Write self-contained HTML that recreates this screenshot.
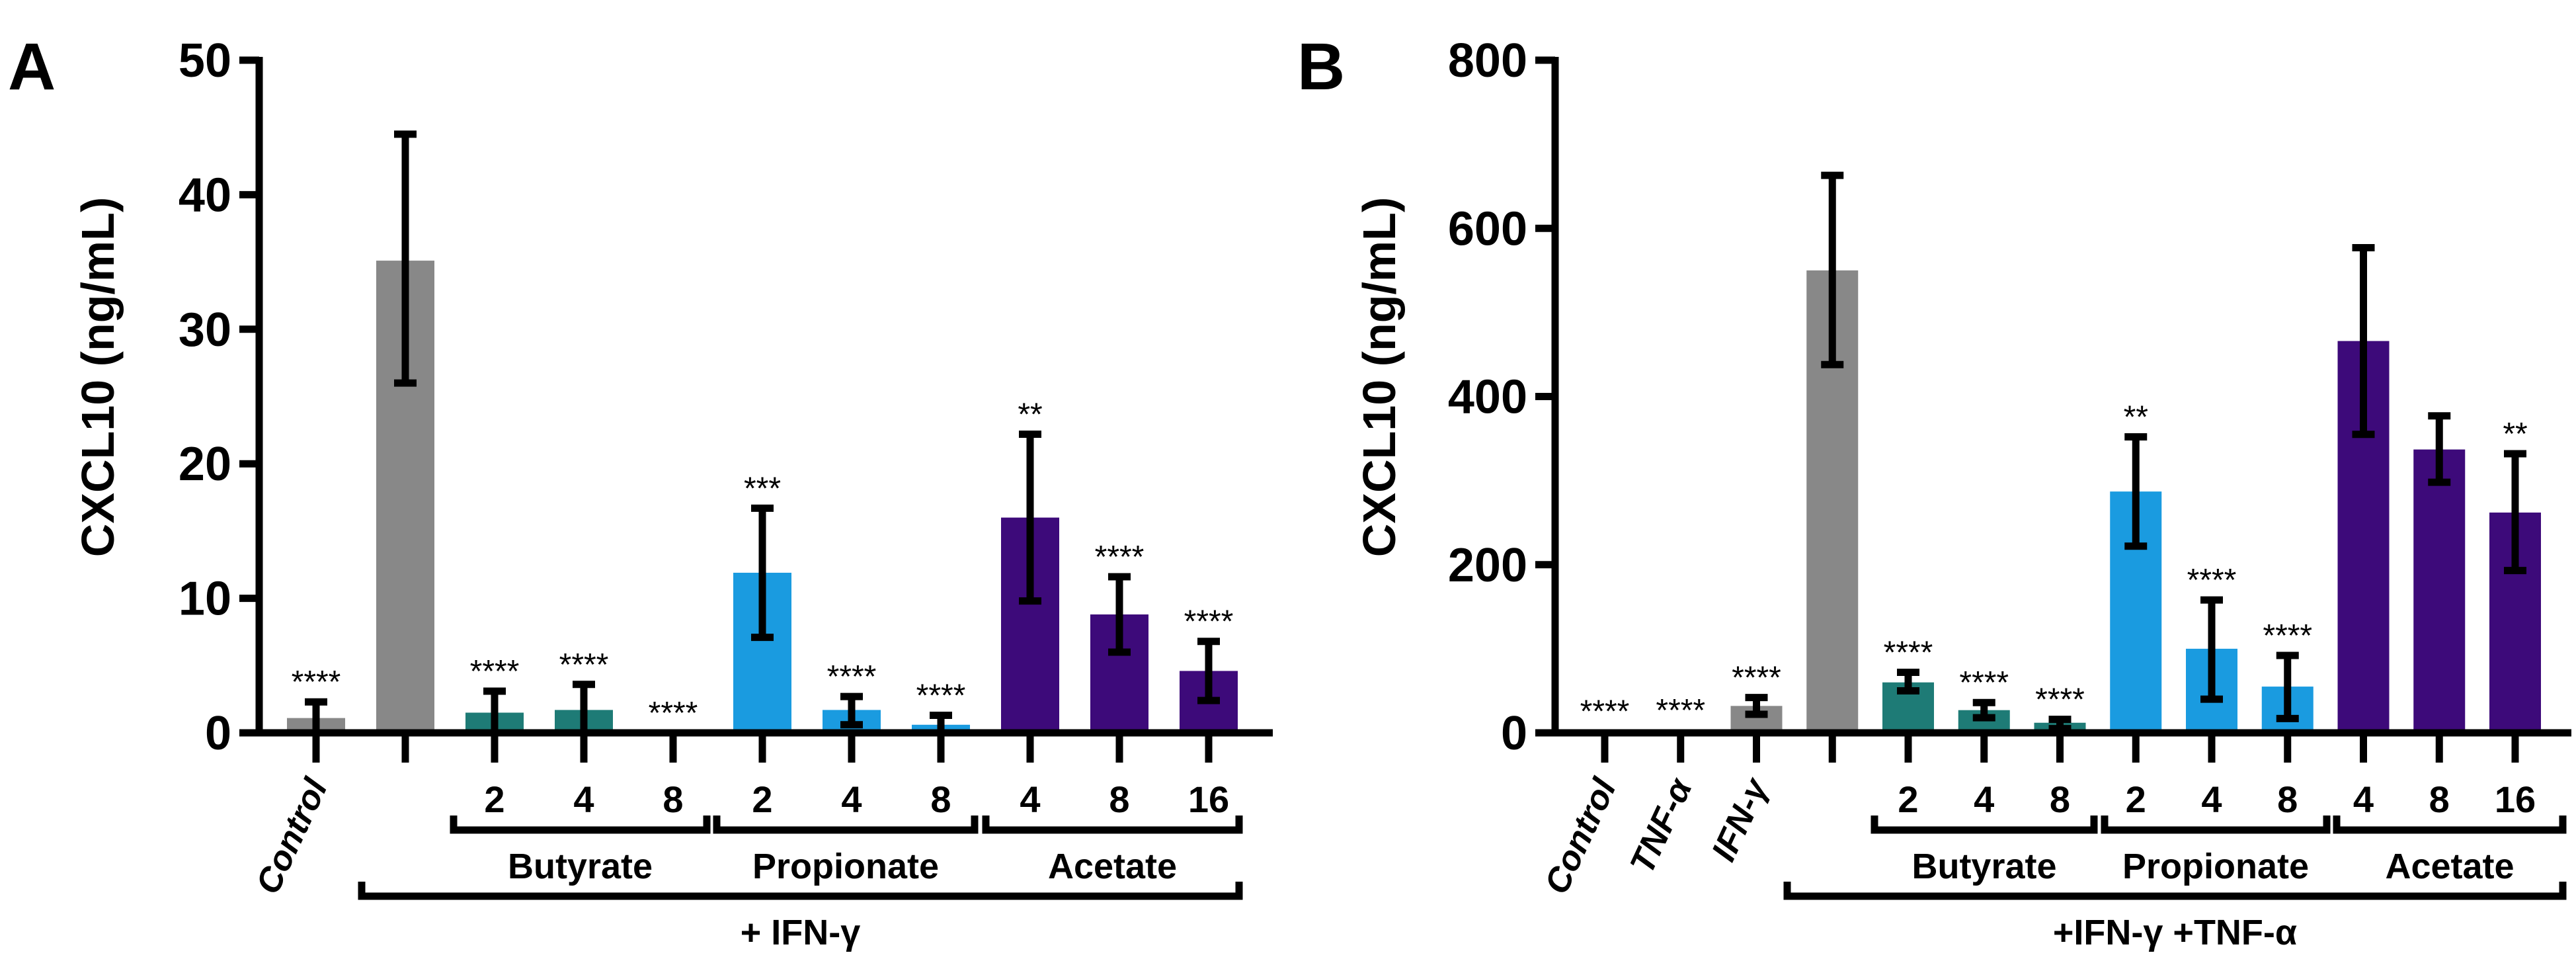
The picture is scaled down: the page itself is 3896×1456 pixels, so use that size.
<!DOCTYPE html>
<html><head><meta charset="utf-8">
<style>
html,body{margin:0;padding:0;background:#fff;}
svg{display:block;font-family:"Liberation Sans",Arial,sans-serif;}
</style></head>
<body>
<svg id="fig" width="3896" height="1456" viewBox="0 0 3896 1456" xmlns="http://www.w3.org/2000/svg"></svg>
<script>
const NS="http://www.w3.org/2000/svg";
const colors={gray:"#888888",teal:"#1e7b76",blue:"#1a9be0",purple:"#3d0a7a"};
// Panel A data
const catsA=["Control","IFN","But2","But4","But8","Prop2","Prop4","Prop8","Ace4","Ace8","Ace16"];
const valsA=[1.1,35.1,1.5,1.7,0,11.9,1.7,0.6,16,8.8,4.6];
const lowA=[0,26,0,0,0,7.1,0.6,0,9.8,6,2.4];
const highA=[2.3,44.5,3.1,3.6,0,16.7,2.7,1.3,22.2,11.6,6.8];
const sigA=["****","","****","****","****","***","****","****","**","****","****"];
const colA=["gray","gray","teal","teal","teal","blue","blue","blue","purple","purple","purple"];
const ticksA=[0,10,20,30,40,50];
// Panel B data
const catsB=["Control","TNF","IFN","IFN+TNF","But2","But4","But8","Prop2","Prop4","Prop8","Ace4","Ace8","Ace16"];
const valsB=[2,3,32,550,60,27,12,287,100,55,466,337,262];
const lowB=[2,3,22,438,50,18,5,222,40,17,355,298,193];
const highB=[2,3,42,663,72,36,16,352,158,92,577,377,332];
const sigB=["****","****","****","","****","****","****","**","****","****","","","**"];
const colB=["gray","gray","gray","gray","teal","teal","teal","blue","blue","blue","purple","purple","purple"];
const ticksB=[0,200,400,600,800];

const svg=document.getElementById("fig");
function el(tag,attrs,parent){const e=document.createElementNS(NS,tag);for(const k in attrs)e.setAttribute(k,attrs[k]);(parent||svg).appendChild(e);return e;}
function txt(s,attrs,parent){const t=el("text",attrs,parent);t.textContent=s;return t;}

function panel(cfg){
  const g=el("g",{});
  
  
  const y=v=>cfg.y0-(v/cfg.ymax)*(cfg.y0-cfg.ytop);
  const x=i=>cfg.x0+i*cfg.step;
  cfg.vals.forEach((v,i)=>{
    const r=el("rect",{x:x(i)-cfg.bw/2,y:y(v),width:cfg.bw,height:Math.max(0,cfg.y0-y(v)),fill:colors[cfg.col[i]]},g);
    
    
  });
  cfg.vals.forEach((v,i)=>{
    if(cfg.high[i]-cfg.low[i]<=0)return;
    const eg=el("g",{stroke:"#000","stroke-width":11},g);
    
    
    el("line",{x1:x(i),x2:x(i),y1:y(cfg.high[i]),y2:y(cfg.low[i])},eg);
    el("line",{x1:x(i)-17,x2:x(i)+17,y1:y(cfg.high[i]),y2:y(cfg.high[i])},eg);
    el("line",{x1:x(i)-17,x2:x(i)+17,y1:y(cfg.low[i]),y2:y(cfg.low[i])},eg);
  });
  cfg.sig.forEach((s,i)=>{
    if(!s)return;
    const t=txt(s,{x:x(i),y:y(cfg.high[i])-14,"font-size":48,"text-anchor":"middle",fill:"#000"},g);
    
    
  });
  const ax=el("g",{stroke:"#000","stroke-width":11},g);
  
  
  el("line",{x1:cfg.ax,x2:cfg.ax,y1:cfg.ytop-5,y2:cfg.y0+5},ax);
  el("line",{x1:cfg.ax-5,x2:cfg.xend,y1:cfg.y0,y2:cfg.y0},ax);
  cfg.ticks.forEach(t=>{
    el("line",{x1:cfg.ax-30,x2:cfg.ax,y1:y(t),y2:y(t)},ax);
    const l=txt(String(t),{x:cfg.ax-42,y:y(t)+25,"font-size":72,"font-weight":"bold","text-anchor":"end",fill:"#000",stroke:"none"},g);
    
    
  });
  cfg.vals.forEach((v,i)=>{el("line",{x1:x(i),x2:x(i),y1:cfg.y0,y2:cfg.y0+45},ax);});
  const yt=txt("CXCL10 (ng/mL)",{x:0,y:0,"font-size":70,"font-weight":"bold","text-anchor":"middle",transform:`translate(${cfg.ytx},570) rotate(-90)`},g);
  
  
  const pl=txt(cfg.letter,{x:cfg.lx,y:135,"font-size":100,"font-weight":"bold"},g);
  
  
  cfg.rot.forEach(([i,s])=>{
    const t=txt(s,{x:0,y:0,"font-size":52,"font-weight":"bold","font-style":"italic","text-anchor":"end",transform:`translate(${x(i)+18},${cfg.y0+80}) rotate(-65)`},g);
    
    
  });
  cfg.doses.forEach(([i,s])=>{
    const t=txt(s,{x:x(i),y:cfg.y0+120,"font-size":56,"font-weight":"bold","text-anchor":"middle"},g);
    
    
  });
  cfg.brackets.forEach(([a,b,yy,label,ly])=>{
    const bg=el("g",{},g);
    
    
    el("path",{d:`M${a},${yy-22} V${yy} H${b} V${yy-22}`,fill:"none",stroke:"#000","stroke-width":11},bg);
    txt(label,{x:(a+b)/2,y:ly,"font-size":54,"font-weight":"bold","text-anchor":"middle"},bg);
  });
}

panel({name:"panel-a",letter:"A",lx:12,cats:catsA,vals:valsA,low:lowA,high:highA,sig:sigA,col:colA,ticks:ticksA,
  ymax:50,y0:1108,ytop:91,ax:392,xend:1925,x0:478,step:135,bw:88,ytx:172,
  rot:[[0,"Control"]],
  doses:[[2,"2"],[3,"4"],[4,"8"],[5,"2"],[6,"4"],[7,"8"],[8,"4"],[9,"8"],[10,"16"]],
  brackets:[[686,1069,1255,"Butyrate",1328],[1084,1474,1255,"Propionate",1328],[1491,1874,1255,"Acetate",1328],[547,1874,1355,"+ IFN-γ",1428]]});

panel({name:"panel-b",letter:"B",lx:1962,cats:catsB,vals:valsB,low:lowB,high:highB,sig:sigB,col:colB,ticks:ticksB,
  ymax:800,y0:1108,ytop:91,ax:2352,xend:3889,x0:2427,step:114.75,bw:78,ytx:2110,
  rot:[[0,"Control"],[1,"TNF-α"],[2,"IFN-γ"]],
  doses:[[4,"2"],[5,"4"],[6,"8"],[7,"2"],[8,"4"],[9,"8"],[10,"4"],[11,"8"],[12,"16"]],
  brackets:[[2835,3167,1255,"Butyrate",1328],[3183,3519,1255,"Propionate",1328],[3534,3876,1255,"Acetate",1328],[2703,3876,1355,"+IFN-γ +TNF-α",1428]]});
</script>
</body></html>
